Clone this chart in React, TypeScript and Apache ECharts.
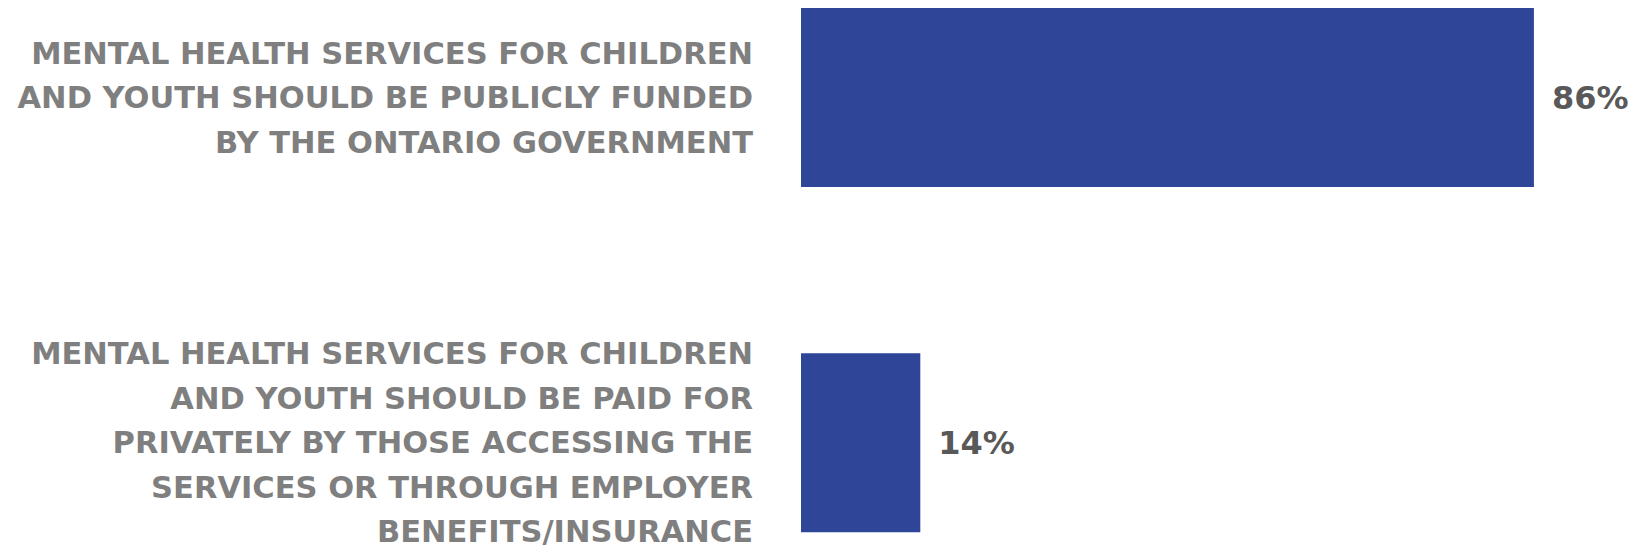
import React, { useEffect, useRef } from "react";
import * as echarts from "echarts";

const categories: string[] = [
  "MENTAL HEALTH SERVICES FOR CHILDREN\nAND YOUTH SHOULD BE PUBLICLY FUNDED\nBY THE ONTARIO GOVERNMENT",
  "MENTAL HEALTH SERVICES FOR CHILDREN\nAND YOUTH SHOULD BE PAID FOR\nPRIVATELY BY THOSE ACCESSING THE\nSERVICES OR THROUGH EMPLOYER\nBENEFITS/INSURANCE",
];
const values: number[] = [86, 14];

export default function App() {
  const ref = useRef<HTMLDivElement>(null);
  useEffect(() => {
    if (!ref.current) return;
    const chart = echarts.init(ref.current, undefined, { renderer: "svg" });
    chart.setOption({
      animation: false,
      backgroundColor: "#ffffff",
      grid: { left: 801, top: 97.5, width: 767, height: 349, containLabel: false },
      xAxis: {
        type: "value",
        min: 0,
        max: 90,
        show: false,
      },
      yAxis: {
        type: "category",
        data: categories,
        inverse: true,
        boundaryGap: false,
        axisLine: { show: false },
        axisTick: { show: false },
        splitLine: { show: false },
        axisLabel: {
          interval: 0,
          margin: 48,
          align: "right",
          color: "#7f7f7f",
          fontFamily: "DejaVu Sans",
          fontWeight: "bold",
          fontSize: 30.5,
          lineHeight: 44.5,
        },
      },
      series: [
        {
          type: "bar",
          data: values,
          barWidth: 179,
          clip: false,
          itemStyle: { color: "#2e4598" },
          label: {
            show: true,
            position: "right",
            distance: 18,
            formatter: "{c}%",
            color: "#595959",
            fontFamily: "DejaVu Sans",
            fontWeight: "bold",
            fontSize: 32,
          },
        },
      ],
    });
    return () => chart.dispose();
  }, []);
  return (
    <div
      ref={ref}
      style={{ position: "fixed", left: 0, top: 0, width: 1640, height: 554 }}
    />
  );
}
